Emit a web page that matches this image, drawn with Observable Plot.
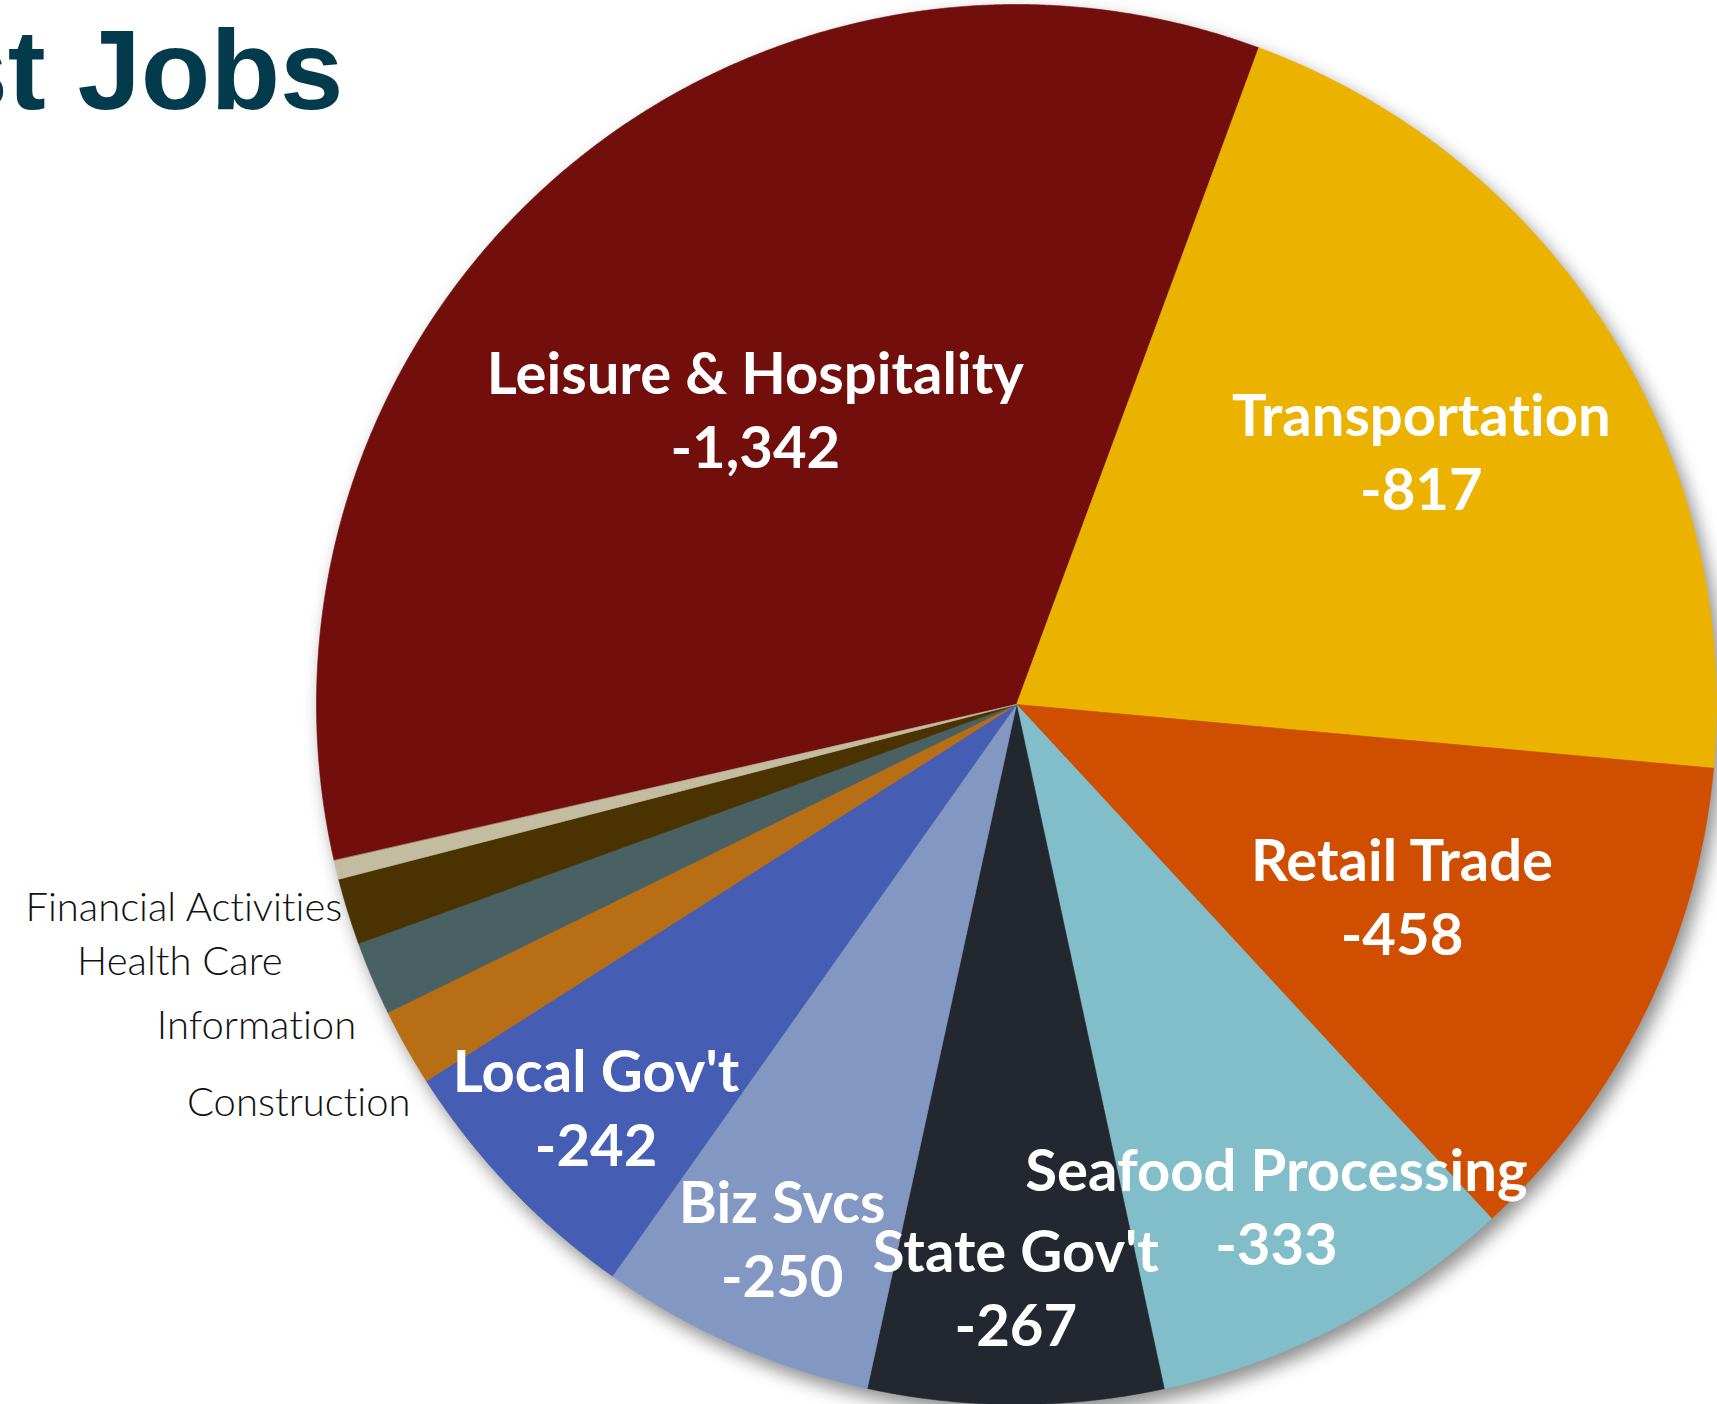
<!DOCTYPE html>
<html><head><meta charset="utf-8">
<script src="https://cdn.jsdelivr.net/npm/d3@7"></script>
<script src="https://cdn.jsdelivr.net/npm/@observablehq/plot@0.6"></script>
<style>
html,body{margin:0;padding:0;background:#fff;overflow:hidden}
#chart svg{display:block}
#chart text{font-variant-ligatures:none;font-feature-settings:"liga" 0, "clig" 0}
</style>
</head><body><div id="chart"></div>
<script>
// ---- data ----
const industries = ["Leisure & Hospitality","Transportation","Retail Trade","Seafood Processing","State Gov't","Biz Svcs","Local Gov't","Construction","Information","Health Care","Financial Activities"];
const jobsLost = [1342, 817, 458, 333, 267, 250, 242, 70, 67, 60, 17];
const valueLabels = ["-1,342","-817","-458","-333","-267","-250","-242","","","",""];
const sliceColors = ["#720e0b","#ecb200","#d04e00","#82bec9","#232730","#8397c3","#455db3","#b86e14","#4a6163","#4a3300","#c3bca1"];
const titleText = "st Jobs";

// ---- layout ----
const W = 1717, H = 1404;
const cx = 1016, cy = 704, R = 700;
const startDeg = 257.1;
const insideLabelR = [0.565, 0.684, 0.614, 0.805, 0.83, 0.83, 0.83];
// outside labels: [radius factor, angle offset in degrees from slice middle]
const outsidePlace = {"Construction":[1.036,-4.0],"Information":[1.049,-2.9],"Health Care":[1.111,-2.1],"Financial Activities":[1.006,-3.1]};

const data = industries.map((name,i)=>({name, value: jobsLost[i], label: valueLabels[i], color: sliceColors[i]}));
const a0 = startDeg*Math.PI/180;
const arcs = d3.pie().sort(null).value(d=>d.value).startAngle(a0).endAngle(a0+2*Math.PI)(data);
const pt = (a, r) => [cx + r*Math.sin(a), cy - r*Math.cos(a)];

const slices = arcs.map(a => {
  const ring = [pt(0,0)];
  const n = Math.max(4, Math.ceil((a.endAngle - a.startAngle)/(Math.PI/720)));
  for (let k=0;k<=n;k++) ring.push(pt(a.startAngle + (a.endAngle-a.startAngle)*k/n, R));
  ring.push(pt(0,0));
  return {type:"Feature", properties:a.data, geometry:{type:"Polygon", coordinates:[ring]}};
});

const insideLabels = arcs.filter(a=>a.data.label).map((a,i)=>{
  const m = (a.startAngle+a.endAngle)/2;
  const [x,y] = pt(m, R*insideLabelR[i]);
  return {x, y, text: a.data.name + "\n" + a.data.label};
});
const outsideLabels = arcs.filter(a=>!a.data.label).map(a=>{
  const [rf, off] = outsidePlace[a.data.name];
  const m = (a.startAngle+a.endAngle)/2 + off*Math.PI/180;
  const [x,y] = pt(m, R*rf);
  return {x, y, text: a.data.name};
});

const plot = Plot.plot({
  width: W, height: H, margin: 0,
  projection: {type:"identity", domain:{type:"Polygon", coordinates:[[[0,0],[W,0],[W,H],[0,H],[0,0]]]}},
  marks: [
    Plot.geo(slices, {fill: d=>d.properties.color, stroke: d=>d.properties.color, strokeWidth: 0.6}),
    Plot.text(insideLabels, {x:"x", y:"y", text:"text", fill:"white", fontSize:58, fontWeight:700, fontFamily:"Lato", lineHeight:1.28}),
    Plot.text(outsideLabels, {x:"x", y:"y", text:"text", textAnchor:"end", fill:"#111", fontSize:40, fontWeight:300, fontFamily:"Lato"}),
    Plot.text([titleText], {frameAnchor:"top-left", dx:343, dy:108, textAnchor:"end", lineAnchor:"bottom", fontSize:114, fontWeight:700, fontFamily:"Liberation Sans", fill:"#033a4c"})
  ]
});
const geoG = plot.querySelector('g[aria-label="geo"]');
if (geoG) geoG.style.filter = "drop-shadow(6px 9px 9px rgba(0,0,0,0.45))";
document.getElementById("chart").appendChild(plot);
</script>
</body></html>
